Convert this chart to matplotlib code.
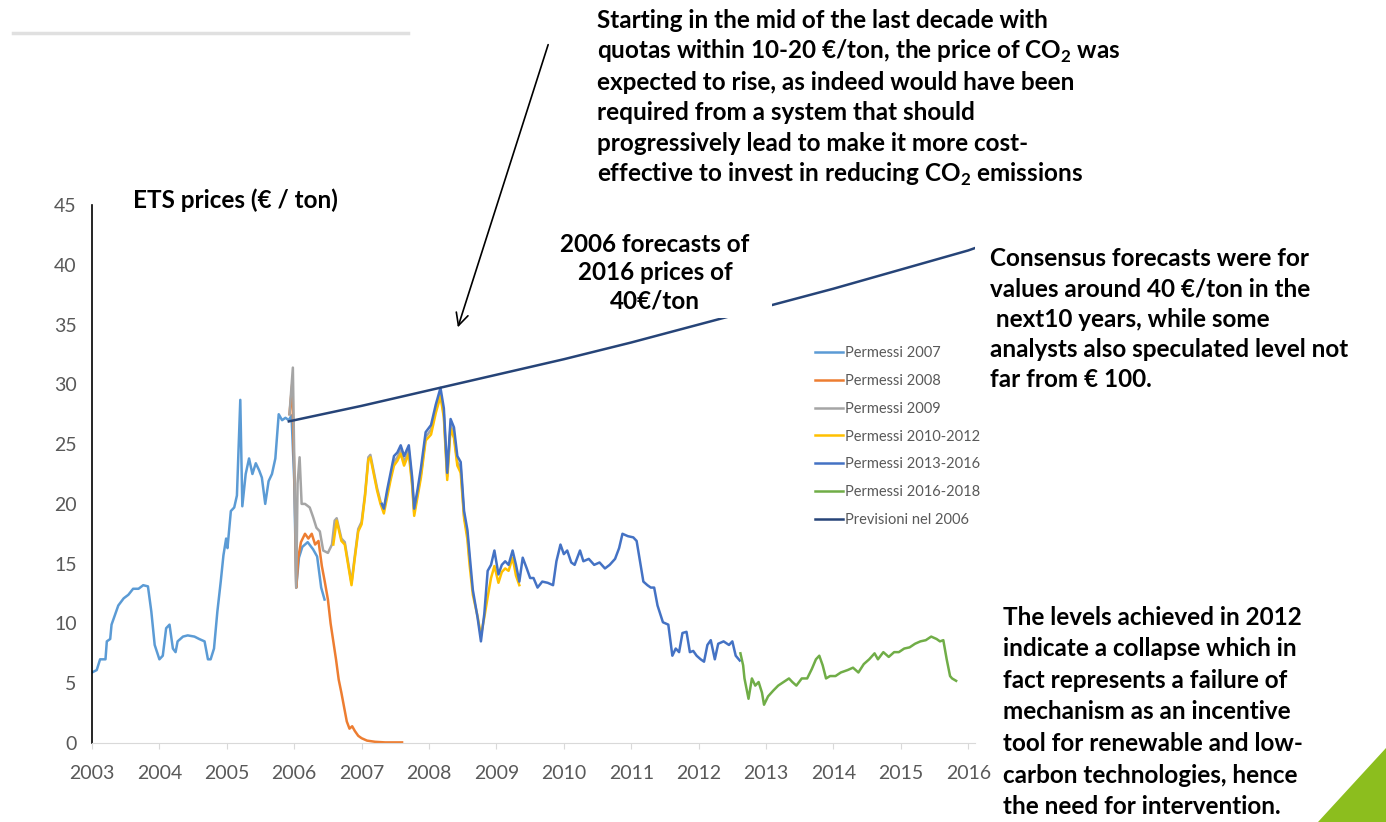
import matplotlib
matplotlib.use("Agg")
import matplotlib.pyplot as plt
from matplotlib.patches import Polygon, Rectangle, FancyArrowPatch
from matplotlib.lines import Line2D

W, H = 1386, 822

# weekly-ish quotes (EUR / ton)
p07_t = [2003.00, 2003.07, 2003.12, 2003.20, 2003.22, 2003.27, 2003.29, 2003.34, 2003.39, 2003.47,
         2003.54, 2003.61, 2003.69, 2003.76, 2003.83, 2003.88, 2003.93, 2004.00, 2004.05, 2004.10,
         2004.15, 2004.20, 2004.24, 2004.27, 2004.35, 2004.42, 2004.52, 2004.59, 2004.67, 2004.72,
         2004.76, 2004.81, 2004.86, 2004.91, 2004.95, 2004.99, 2005.01, 2005.06, 2005.11, 2005.15,
         2005.20, 2005.23, 2005.28, 2005.33, 2005.38, 2005.43, 2005.48, 2005.52, 2005.57, 2005.62,
         2005.67, 2005.72, 2005.77, 2005.82, 2005.87, 2005.92, 2005.96, 2006.00, 2006.03, 2006.07,
         2006.12, 2006.20, 2006.28, 2006.34, 2006.40, 2006.45]
p07_v = [5.9, 6.1, 7.0, 7.0, 8.5, 8.7, 9.9, 10.7, 11.5, 12.1,
         12.4, 12.9, 12.9, 13.2, 13.1, 11.0, 8.2, 7.0, 7.3, 9.6,
         9.9, 7.9, 7.6, 8.5, 8.9, 9.0, 8.9, 8.7, 8.5, 7.0,
         7.0, 7.9, 11.0, 13.5, 15.7, 17.1, 16.3, 19.4, 19.7, 20.7,
         28.7, 19.8, 22.5, 23.8, 22.5, 23.4, 22.8, 22.2, 20.0, 21.9,
         22.5, 23.8, 27.5, 27.0, 27.2, 27.0, 27.4, 22.0, 13.0, 15.5,
         16.4, 16.8, 16.2, 15.6, 13.0, 12.0]

p08_t = [2005.93, 2005.97, 2005.99, 2006.01, 2006.03, 2006.06, 2006.10, 2006.16, 2006.21, 2006.26,
         2006.31, 2006.36, 2006.41, 2006.45, 2006.50, 2006.54, 2006.58, 2006.62, 2006.66, 2006.70,
         2006.74, 2006.78, 2006.82, 2006.86, 2006.90, 2006.95, 2007.00, 2007.08, 2007.20, 2007.35,
         2007.50, 2007.60]
p08_v = [27.5, 30.0, 25.0, 21.0, 13.0, 15.5, 16.8, 17.5, 17.1, 17.5,
         16.6, 16.9, 14.8, 13.6, 12.0, 10.0, 8.5, 7.0, 5.3, 4.2,
         3.0, 1.8, 1.2, 1.4, 1.0, 0.6, 0.4, 0.2, 0.1, 0.05,
         0.05, 0.05]

p09_t = [2005.93, 2005.98, 2006.00, 2006.03, 2006.05, 2006.08, 2006.11, 2006.16, 2006.23, 2006.28,
         2006.33, 2006.38, 2006.43, 2006.50, 2006.56, 2006.60, 2006.63, 2006.70, 2006.75, 2006.80,
         2006.85, 2006.90, 2006.95, 2007.00, 2007.05, 2007.10, 2007.13, 2007.18, 2007.23, 2007.28,
         2007.33, 2007.38, 2007.43, 2007.48, 2007.53, 2007.58, 2007.63, 2007.70, 2007.75, 2007.78,
         2007.83, 2007.88, 2007.95, 2008.03, 2008.10, 2008.17, 2008.22, 2008.27, 2008.32, 2008.37,
         2008.42, 2008.47, 2008.52, 2008.57, 2008.60]
p09_v = [27.5, 31.4, 24.0, 13.0, 21.7, 23.9, 20.0, 20.0, 19.7, 18.9,
         18.0, 17.7, 16.1, 15.9, 16.6, 18.6, 18.8, 17.1, 16.8, 15.1,
         13.4, 15.7, 17.9, 18.5, 20.8, 23.9, 24.1, 22.7, 21.3, 20.2,
         19.5, 20.9, 22.3, 23.5, 23.9, 24.5, 23.5, 24.5, 21.8, 19.3,
         20.9, 22.5, 25.6, 26.2, 27.9, 29.3, 27.5, 22.3, 26.6, 25.8,
         23.5, 23.0, 19.0, 17.4, 15.4]

p10_t = [2006.58, 2006.63, 2006.70, 2006.75, 2006.80, 2006.85, 2006.90, 2006.95, 2007.00, 2007.05,
         2007.10, 2007.13, 2007.18, 2007.23, 2007.28, 2007.33, 2007.38, 2007.43, 2007.48, 2007.53,
         2007.58, 2007.63, 2007.70, 2007.75, 2007.78, 2007.83, 2007.88, 2007.95, 2008.03, 2008.10,
         2008.17, 2008.22, 2008.27, 2008.32, 2008.37, 2008.42, 2008.47, 2008.52, 2008.57, 2008.60,
         2008.65, 2008.72, 2008.77, 2008.82, 2008.87, 2008.92, 2008.97, 2009.03, 2009.08, 2009.13,
         2009.18, 2009.24, 2009.29, 2009.34]
p10_v = [16.6, 18.6, 16.9, 16.6, 14.9, 13.2, 15.5, 17.7, 18.3, 20.6,
         23.7, 23.9, 22.5, 21.1, 20.0, 19.2, 20.6, 22.0, 23.2, 23.6,
         24.2, 23.2, 24.2, 21.5, 19.0, 20.6, 22.2, 25.3, 25.8, 27.6,
         29.0, 27.2, 22.0, 26.3, 25.5, 23.2, 22.6, 18.8, 17.0, 15.0,
         12.4, 10.6, 9.0, 10.5, 12.2, 13.8, 14.8, 13.4, 14.3, 14.6,
         14.4, 15.5, 14.0, 13.2]

p13_t = [2007.30, 2007.33, 2007.38, 2007.43, 2007.48, 2007.53, 2007.58, 2007.63, 2007.70, 2007.75,
         2007.78, 2007.83, 2007.88, 2007.95, 2008.03, 2008.10, 2008.17, 2008.22, 2008.27, 2008.32,
         2008.37, 2008.42, 2008.47, 2008.52, 2008.57, 2008.60, 2008.65, 2008.72, 2008.77, 2008.82,
         2008.87, 2008.92, 2008.97, 2009.03, 2009.08, 2009.13, 2009.18, 2009.24, 2009.29, 2009.34,
         2009.39, 2009.45, 2009.50, 2009.55, 2009.61, 2009.68, 2009.76, 2009.84, 2009.89, 2009.95,
         2010.00, 2010.05, 2010.11, 2010.16, 2010.24, 2010.29, 2010.37, 2010.45, 2010.53, 2010.61,
         2010.68, 2010.76, 2010.82, 2010.87, 2010.95, 2011.03, 2011.08, 2011.13, 2011.18, 2011.24,
         2011.29, 2011.34, 2011.39, 2011.47, 2011.55, 2011.61, 2011.66, 2011.71, 2011.76, 2011.82,
         2011.87, 2011.92, 2011.97, 2012.03, 2012.08, 2012.13, 2012.18, 2012.24, 2012.29, 2012.37,
         2012.45, 2012.50, 2012.55, 2012.61]
p13_v = [20.0, 19.6, 21.2, 22.6, 24.0, 24.3, 24.9, 24.0, 24.9, 22.2,
         19.6, 21.2, 23.0, 26.0, 26.6, 28.3, 29.7, 28.0, 22.6, 27.1,
         26.4, 24.0, 23.5, 19.4, 17.8, 15.9, 12.8, 10.5, 8.5, 10.8,
         14.4, 14.9, 16.1, 14.1, 14.9, 15.2, 14.9, 16.1, 14.9, 13.5,
         15.5, 14.6, 13.8, 13.8, 13.0, 13.5, 13.4, 13.2, 15.2, 16.6,
         15.8, 16.1, 15.1, 14.9, 16.1, 15.2, 15.4, 14.9, 15.1, 14.6,
         14.9, 15.4, 16.3, 17.5, 17.3, 17.2, 16.9, 15.2, 13.5, 13.2,
         13.0, 13.0, 11.5, 10.1, 9.9, 7.3, 7.9, 7.6, 9.2, 9.3,
         7.6, 7.7, 7.3, 7.0, 6.8, 8.2, 8.6, 7.0, 8.3, 8.5,
         8.2, 8.5, 7.3, 6.9]

p16_t = [2012.62, 2012.66, 2012.68, 2012.74, 2012.79, 2012.84, 2012.89, 2012.94, 2012.97, 2013.03,
         2013.11, 2013.18, 2013.26, 2013.34, 2013.39, 2013.45, 2013.53, 2013.61, 2013.68, 2013.74,
         2013.79, 2013.84, 2013.89, 2013.95, 2014.03, 2014.11, 2014.21, 2014.29, 2014.37, 2014.45,
         2014.53, 2014.61, 2014.66, 2014.74, 2014.82, 2014.90, 2014.97, 2015.05, 2015.13, 2015.21,
         2015.29, 2015.37, 2015.45, 2015.53, 2015.58, 2015.63, 2015.68, 2015.73, 2015.76, 2015.82]
p16_v = [7.5, 6.5, 5.4, 3.7, 5.4, 4.8, 5.1, 4.2, 3.2, 3.9,
         4.4, 4.8, 5.1, 5.4, 5.1, 4.8, 5.4, 5.4, 6.2, 7.0,
         7.3, 6.5, 5.4, 5.6, 5.6, 5.9, 6.1, 6.3, 5.9, 6.6,
         7.0, 7.5, 7.0, 7.6, 7.2, 7.6, 7.6, 7.9, 8.0, 8.3,
         8.5, 8.6, 8.9, 8.7, 8.5, 8.6, 7.0, 5.6, 5.4, 5.2]

# 2006 forecast path towards 2016
prev_t = [2005.92, 2007.0, 2008.0, 2009.0, 2010.0, 2011.0, 2012.0, 2013.0, 2014.0, 2015.0, 2016.0, 2016.1]
prev_v = [26.9, 28.2, 29.5, 30.8, 32.1, 33.5, 35.0, 36.5, 38.0, 39.6, 41.2, 41.4]

series_t = [p07_t, p08_t, p09_t, p10_t, p13_t, p16_t, prev_t]
series_v = [p07_v, p08_v, p09_v, p10_v, p13_v, p16_v, prev_v]
labels = ["Permessi 2007", "Permessi 2008", "Permessi 2009", "Permessi 2010-2012",
          "Permessi 2013-2016", "Permessi 2016-2018", "Previsioni nel 2006"]
colors = ["#5B9BD5", "#ED7D31", "#A5A5A5", "#FFC000", "#4472C4", "#70AD47", "#264478"]
years = list(range(2003, 2017))


def fx(x):
    return x / W


def fy(y):
    return 1 - y / H


plt.rcParams['font.family'] = ['Lato', 'DejaVu Sans']
plt.rcParams['mathtext.fontset'] = 'custom'
plt.rcParams['mathtext.rm'] = 'Lato'
plt.rcParams['mathtext.bf'] = 'Lato:bold'

fig = plt.figure(figsize=(W / 100, H / 100), dpi=100)
ax = fig.add_axes([fx(92), 79 / H, 883 / W, 538 / H])

for t, v, lab, c in zip(series_t, series_v, labels, colors):
    ax.plot(t, v, color=c, lw=1.8, label=lab, solid_joinstyle='round')

ax.set_xlim(2003, 2016.1)
ax.set_ylim(0, 45)
ax.set_xticks(years)
ax.set_yticks(range(0, 50, 5))
for s in ['top', 'right']:
    ax.spines[s].set_visible(False)
ax.spines['left'].set_color('black')
ax.spines['left'].set_linewidth(1.2)
ax.spines['bottom'].set_color('#D9D9D9')
ax.tick_params(axis='x', colors='#D9D9D9', length=4, pad=12, labelcolor='#595959', labelsize=14)
ax.tick_params(axis='y', length=0, pad=11, labelcolor='#595959', labelsize=14)

leg = ax.legend(loc='upper left', bbox_to_anchor=(fx(815), fy(346)), bbox_transform=fig.transFigure,
                frameon=False, fontsize=10.5, handlelength=1.9, handletextpad=0.15,
                labelspacing=0.95, borderpad=0, borderaxespad=0)
for txt in leg.get_texts():
    txt.set_color('#595959')

# white panel behind the forecast caption
fig.add_artist(Rectangle((fx(545), fy(318)), (772 - 545) / W, (318 - 222) / H,
                         transform=fig.transFigure, facecolor='white', edgecolor='none', zorder=2))

# faint rule at the top left
fig.add_artist(Line2D([fx(13), fx(408)], [fy(33), fy(33)], color='#E0E0E0', lw=2.5))

# arrow from the top note down to the forecast line
fig.add_artist(FancyArrowPatch((fx(549), fy(42)), (fx(457), fy(330)), transform=fig.transFigure,
                               arrowstyle='->', mutation_scale=22, lw=1.2, color='black', zorder=3))

# green corner
fig.add_artist(Polygon([(fx(1318), fy(822)), (fx(1386), fy(822)), (fx(1386), fy(748))],
                       closed=True, transform=fig.transFigure, facecolor='#8CBE1E', edgecolor='none'))

bold = dict(fontweight='bold', color='black', fontsize=17.5, va='center', zorder=4)

fig.text(fx(133), fy(200), "ETS prices (€ / ton)", **bold)

top_note = ["Starting in the mid of the last decade with",
            r"quotas within 10-20 €/ton, the price of CO$_\mathbf{2}$ was",
            "expected to rise, as indeed would have been",
            "required from a system that should",
            "progressively lead to make it more cost-",
            r"effective to invest in reducing CO$_\mathbf{2}$ emissions"]
for i, line in enumerate(top_note):
    fig.text(fx(597), fy(21 + i * 30.6), line, ha='left', **bold)

caption = ["2006 forecasts of", "2016 prices of", "40€/ton"]
for i, line in enumerate(caption):
    fig.text(fx(655), fy(245 + i * 28), line, ha='center', **bold)

consensus = ["Consensus forecasts were for",
             "values around 40 €/ton in the",
             " next10 years, while some",
             "analysts also speculated level not",
             "far from € 100."]
for i, line in enumerate(consensus):
    fig.text(fx(990), fy(259 + i * 30.2), line, ha='left', **bold)

collapse = ["The levels achieved in 2012",
            "indicate a collapse which in",
            "fact represents a failure of",
            "mechanism as an incentive",
            "tool for renewable and low-",
            "carbon technologies, hence",
            "the need for intervention."]
for i, line in enumerate(collapse):
    fig.text(fx(1003), fy(617 + i * 31.6), line, ha='left', **bold)

fig.savefig("out.png", dpi=100)
